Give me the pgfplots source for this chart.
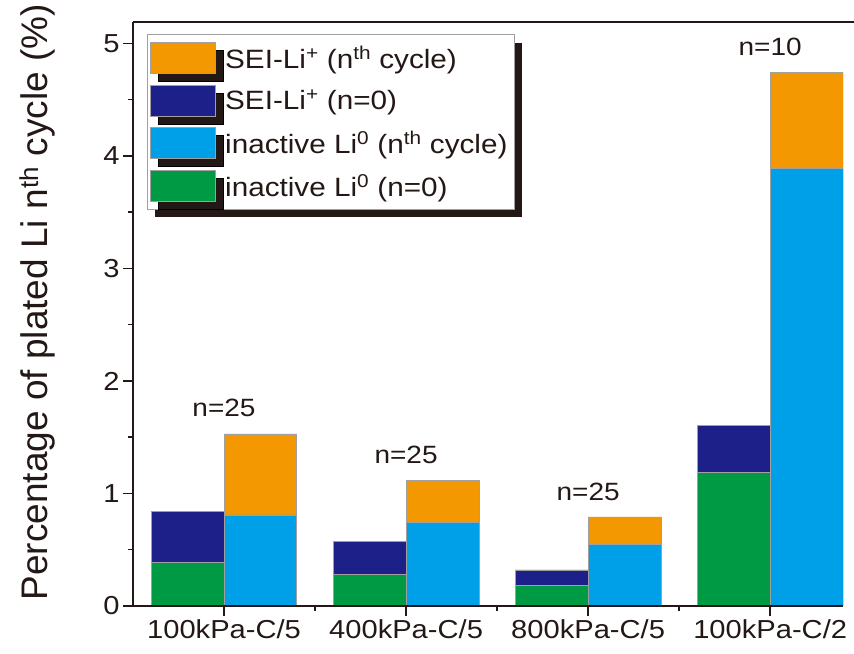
\documentclass[border=0pt]{standalone}
\usepackage{pgfplots}
\pgfplotsset{compat=1.18}
\usepackage{pgfplotstable}
\usepackage{fontspec}
\setmainfont[FakeStretch=1.12]{Liberation Sans}
\newfontfamily\labelfont{Liberation Sans}
\usetikzlibrary{shadows}
\definecolor{cOrange}{HTML}{F39800}
\definecolor{cNavy}{HTML}{1D2088}
\definecolor{cBlue}{HTML}{00A0E9}
\definecolor{cGreen}{HTML}{009944}
\definecolor{cAxis}{HTML}{231815}
\definecolor{cEdge}{HTML}{A0A0A0}

% components of each stacked bar (percent)
\pgfplotstableread{
x green navy blue orange lab
0 0.388 0.456 0.809 0.720 n=25
1 0.284 0.288 0.740 0.377 n=25
2 0.184 0.136 0.545 0.246 n=25
3 1.185 0.418 3.890 0.854 n=10
}\data

\begin{document}
\begin{tikzpicture}
\useasboundingbox (0,0) rectangle (854bp,654bp);
\begin{axis}[
  name=ax,
  at={(133bp,48bp)}, anchor=south west,
  scale only axis, width=710bp, height=584bp,
  xmin=-0.5, xmax=3.4, ymin=0, ymax=5.19,
  axis x line*=bottom, axis y line*=left,
  x axis line style={cAxis, line width=2bp},
  y axis line style={cAxis, line width=2bp},
  xtick={0,1,2,3},
  xticklabels={100kPa-C/5,400kPa-C/5,800kPa-C/5,100kPa-C/2},
  minor xtick={0.5,1.5,2.5},
  ytick={0,1,2,3,4,5},
  minor ytick={0.5,1.5,2.5,3.5,4.5},
  tick align=outside,
  major tick length=10bp, minor tick length=5bp,
  tick style={cAxis, line width=1.5bp},
  /pgf/number format/assume math mode=true,
  ticklabel style={font=\fontsize{26bp}{30bp}\selectfont, text=cAxis},
  ylabel={Percentage of plated Li n\textsuperscript{th} cycle (\%)},
  ylabel style={at={(axis description cs:-0.135,0.52)}, anchor=center,
    font=\labelfont\fontsize{37bp}{40bp}\selectfont, text=cAxis},
  legend image code/.code={\draw[#1, draw=cEdge, line width=0.8bp] (0bp,-15.5bp) rectangle (65bp,15.5bp);},
  legend style={at={(axis description cs:0.0197,0.979)}, anchor=north west,
    draw=cEdge, line width=0.8bp, fill=white,
    drop shadow={shadow xshift=8bp, shadow yshift=-8bp, fill=cAxis, opacity=1},
    font=\fontsize{26.5bp}{30bp}\selectfont, text=cAxis,
    row sep=10.7bp, inner xsep=3bp, inner ysep=7.5bp,
    nodes={inner sep=4bp}},
  legend cell align=left,
  every node near coord/.append style={font=\fontsize{25bp}{30bp}\selectfont, text=cAxis, anchor=south, yshift=13bp},
]
\addlegendimage{fill=cOrange}
\addlegendentry{\hspace{5bp}SEI-Li\textsuperscript{+} (n\textsuperscript{th} cycle)}
\addlegendimage{fill=cNavy}
\addlegendentry{\hspace{5bp}SEI-Li\textsuperscript{+} (n=0)}
\addlegendimage{fill=cBlue}
\addlegendentry{\hspace{5bp}inactive Li\textsuperscript{0} (n\textsuperscript{th} cycle)}
\addlegendimage{fill=cGreen}
\addlegendentry{\hspace{5bp}inactive Li\textsuperscript{0} (n=0)}

% n = 0 bars (left of each pair): SEI on top of inactive Li0
\addplot[ybar, bar width=0.4, bar shift=-0.2, fill=cNavy, draw=cEdge, line width=0.8bp, forget plot]
  table[x=x, y expr=\thisrow{green}+\thisrow{navy}] {\data};
\addplot[ybar, bar width=0.4, bar shift=-0.2, fill=cGreen, draw=cEdge, line width=0.8bp, forget plot]
  table[x=x, y=green] {\data};
% n-th cycle bars (right of each pair)
\addplot[ybar, bar width=0.4, bar shift=0.2, fill=cOrange, draw=cEdge, line width=0.8bp, forget plot,
  nodes near coords, point meta=explicit symbolic]
  table[x=x, y expr=\thisrow{blue}+\thisrow{orange}, meta=lab] {\data};
\addplot[ybar, bar width=0.4, bar shift=0.2, fill=cBlue, draw=cEdge, line width=0.8bp, forget plot]
  table[x=x, y=blue] {\data};
\end{axis}
\draw[cAxis, line width=2bp] (ax.north west) -- ++(740bp,0);
\draw[cAxis, line width=2bp] (ax.north west) -- (ax.south west) -- (ax.south east);
\end{tikzpicture}
\end{document}
